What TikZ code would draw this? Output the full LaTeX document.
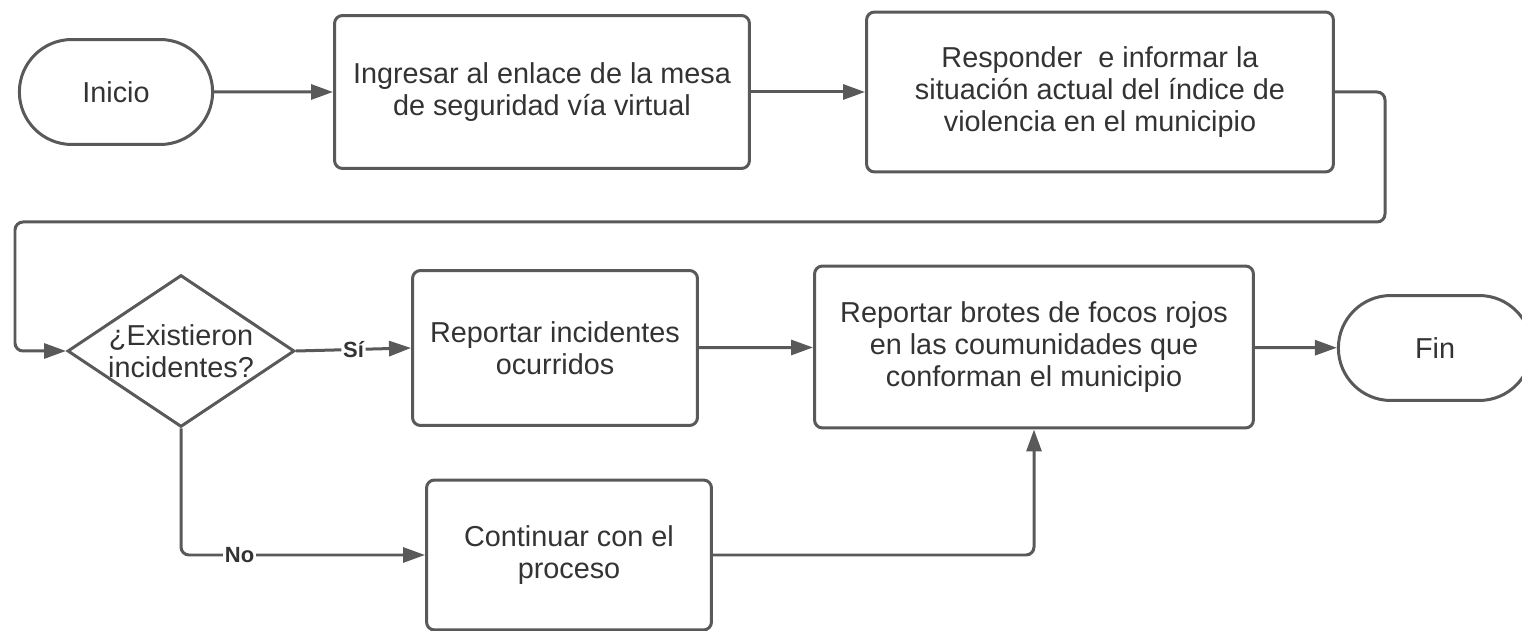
\documentclass[tikz,border=0pt]{standalone}
\usepackage{fontspec}
\setmainfont{Liberation Sans}
\usetikzlibrary{shapes.geometric,shapes.misc,arrows.meta}
\definecolor{linegray}{RGB}{89,89,89}
\definecolor{textgray}{RGB}{51,51,51}
\begin{document}
\begin{tikzpicture}[x=0.02cm,y=-0.02cm,line width=0.06cm,
  txt/.style={text=textgray, align=center, font=\fontsize{16.4}{18.4}\selectfont},
  stepbox/.style={txt, draw=linegray, rounded corners=0.16cm, inner sep=0pt},
  term/.style={txt, draw=linegray, rounded rectangle, minimum width=4.1cm, minimum height=2.1cm},
  dec/.style={draw=linegray, diamond, minimum width=4.54cm, minimum height=3.04cm, inner sep=0pt},
  arr/.style={draw=linegray, rounded corners=0.16cm, -{Triangle[length=0.44cm,width=0.3cm]}},
  lbl/.style={fill=white, text=textgray, inner sep=1pt, font=\bfseries\fontsize{12.5}{14}\selectfont}]
\useasboundingbox (0,0) rectangle (1522,631);
% first row
\node[term] (inicio) at (116,92){Inicio};
\node[stepbox, minimum width=8.3cm, minimum height=3.06cm] (ingresar) at (542,92){Ingresar al enlace de la mesa\\de seguridad vía virtual};
\node[stepbox, minimum width=9.34cm, minimum height=3.2cm] (responder) at (1100,92){Responder\ \ e informar la\\situación actual del índice de\\violencia en el municipio};
% second row
\node[dec] (existieron) at (181,351){};
\node[txt] (existierontxt) at (existieron){¿Existieron\\incidentes?};
\node[stepbox, minimum width=5.7cm, minimum height=3.1cm] (reportar) at (555,348){Reportar incidentes\\ocurridos};
\node[stepbox, minimum width=8.78cm, minimum height=3.24cm] (brotes) at (1034,347){Reportar brotes de focos rojos\\en las coumunidades que\\conforman el municipio};
\node[term] (fin) at (1435,348){Fin};
% third row
\node[stepbox, minimum width=5.7cm, minimum height=3.0cm] (continuar) at (569,555){Continuar con el\\proceso};
\coordinate (turnR) at (1385,222);
\coordinate (turnL) at (15,222);
\draw[arr](inicio) -- (ingresar);
\draw[arr](ingresar) -- (responder);
\draw[arr](responder.east) -| (turnR) -- (turnL) |- (existieron.west);
\draw[arr](existieron.east) -- node[lbl]{Sí} (reportar.west);
\draw[arr](existieron.south) |- node[lbl, pos=0.62]{No} (continuar.west);
\draw[arr](reportar) -- (brotes);
\draw[arr](brotes) -- (fin);
\draw[arr](continuar.east) -| (brotes.south);
\end{tikzpicture}
\end{document}
